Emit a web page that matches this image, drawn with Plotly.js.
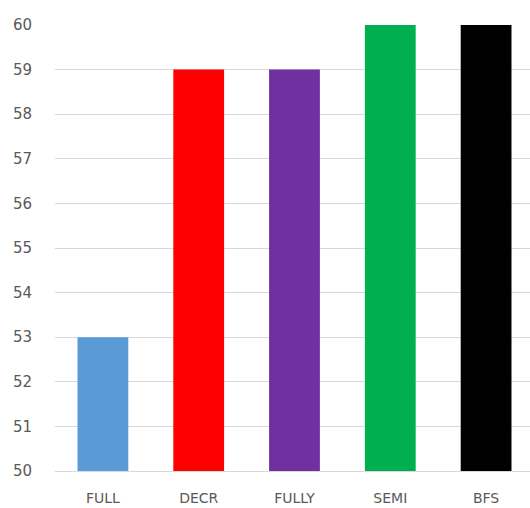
<!DOCTYPE html>
<html>
<head>
<meta charset="utf-8">
<script src="https://cdn.plot.ly/plotly-3.0.1.min.js"></script>
<style>
  html, body { margin: 0; padding: 0; background: #fff; overflow: hidden; }
  #chart { width: 534px; height: 508px; }
</style>
</head>
<body>
<div id="chart"></div>
<script>
// Method names along the x axis
const categories = ["FULL", "DECR", "FULLY", "SEMI", "BFS"];
// Score for each method
const values = [53, 59, 59, 60, 60];
// One fill per bar
const barColors = ["#5B9BD5", "#FF0000", "#7030A0", "#00B050", "#000000"];
// Y axis ticks
const yTicks = [50, 51, 52, 53, 54, 55, 56, 57, 58, 59, 60];

const trace = {
  type: "bar",
  x: categories,
  y: values,
  marker: { color: barColors, line: { width: 0 } },
  hoverinfo: "skip"
};

const layout = {
  width: 534,
  height: 508,
  margin: { l: 55, r: 0, t: 25, b: 37 },
  paper_bgcolor: "#ffffff",
  plot_bgcolor: "#ffffff",
  showlegend: false,
  bargap: 0.47,
  font: { family: "DejaVu Sans, sans-serif", size: 15, color: "#595959" },
  xaxis: {
    type: "category",
    showgrid: false,
    showline: true,
    linecolor: "#d9d9d9",
    linewidth: 1,
    ticks: "",
    ticklabelstandoff: 14,
    tickfont: { size: 14, color: "#595959" }
  },
  yaxis: {
    range: [50, 60],
    tickvals: yTicks,
    ticktext: yTicks.map(String),
    showgrid: true,
    gridcolor: "#d9d9d9",
    gridwidth: 1,
    zeroline: false,
    showline: false,
    ticks: "",
    ticklabelstandoff: 22,
    tickfont: { size: 15, color: "#595959" }
  }
};

Plotly.newPlot("chart", [trace], layout, { staticPlot: true, displayModeBar: false });
</script>
</body>
</html>
